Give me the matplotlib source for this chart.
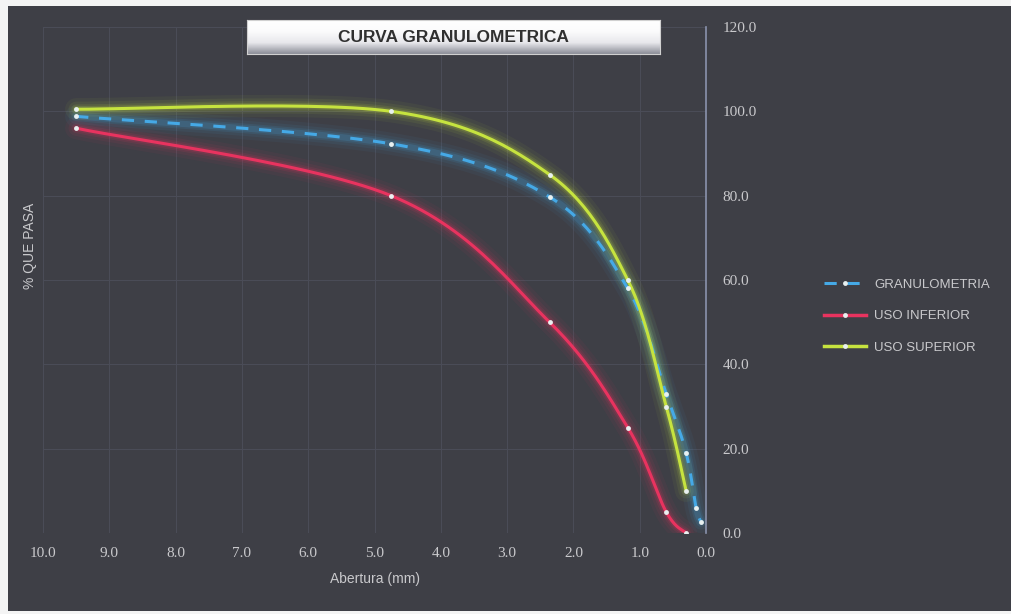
import numpy as np
import matplotlib.pyplot as plt
from matplotlib.patches import Rectangle
from matplotlib.lines import Line2D
from matplotlib.colors import LinearSegmentedColormap

# Datos
tamiz_gran = [9.5, 4.75, 2.36, 1.18, 0.6, 0.3, 0.15, 0.075]
pasa_gran = [98.8, 92.3, 79.7, 58.0, 33.0, 19.0, 6.0, 2.6]

tamiz_lim = [9.5, 4.75, 2.36, 1.18, 0.6, 0.3]
uso_inferior = [96.0, 80.0, 50.0, 25.0, 5.0, 0.0]
uso_superior = [100.5, 100.0, 85.0, 60.0, 30.0, 10.0]

x_ticks = [10, 9, 8, 7, 6, 5, 4, 3, 2, 1, 0]
y_ticks = [0, 20, 40, 60, 80, 100, 120]

fondo = '#3e3f46'
texto = '#c9c9cc'
azul = '#45a9e6'
rojo = '#e8335f'
verde = '#c6e33f'


def suavizar(x, y, n=30):
    """Curva suavizada tipo Excel (Catmull-Rom / Bezier)."""
    x = np.asarray(x, float)
    y = np.asarray(y, float)
    p = np.column_stack([x, y])
    p = np.vstack([p[0], p, p[-1]])
    t = np.linspace(0, 1, n)[:, None]
    seg = []
    for i in range(1, len(p) - 2):
        p0, p1, p2, p3 = p[i - 1], p[i], p[i + 1], p[i + 2]
        c1 = p1 + (p2 - p0) / 6
        c2 = p2 - (p3 - p1) / 6
        b = ((1 - t) ** 3) * p1 + 3 * ((1 - t) ** 2) * t * c1 + 3 * (1 - t) * t ** 2 * c2 + t ** 3 * p2
        seg.append(b)
    s = np.vstack(seg)
    return s[:, 0], s[:, 1]


fig = plt.figure(figsize=(10.11, 6.14), dpi=100)
fig.patch.set_facecolor('#f4f4f4')
fig.patches.append(Rectangle((8 / 1011, 3 / 614), 1 - 8 / 1011, 1 - 9 / 614,
                             transform=fig.transFigure, facecolor=fondo,
                             edgecolor='none', zorder=-5))

ax = fig.add_axes([43 / 1011, 1 - 533 / 614, (706 - 43) / 1011, (533 - 27) / 614], zorder=2)
ax.set_facecolor('none')
ax.set_xlim(10, 0)
ax.set_ylim(0, 120)
ax.set_xticks(x_ticks)
ax.set_yticks(y_ticks)
ax.set_xticklabels([f'{v:.1f}' for v in x_ticks])
ax.set_yticklabels([f'{v:.1f}' for v in y_ticks])
ax.yaxis.tick_right()
ax.tick_params(length=0, colors=texto, labelsize=11)
ax.tick_params(axis='x', pad=10)
ax.tick_params(axis='y', pad=12)
for lab in ax.get_xticklabels() + ax.get_yticklabels():
    lab.set_family('Liberation Serif')
ax.grid(True, color='#4b4d58', linewidth=0.7)
for s in ['top', 'left', 'bottom']:
    ax.spines[s].set_visible(False)
ax.spines['right'].set_color('#8a93ad')
ax.spines['right'].set_linewidth(1.2)

series = [
    (tamiz_gran, pasa_gran, azul, (0, (4, 3.5))),
    (tamiz_lim, uso_inferior, rojo, '-'),
    (tamiz_lim, uso_superior, verde, '-'),
]
for xs, ys, col, ls in series:
    sx, sy = suavizar(xs, ys)
    # resplandor
    for lw, a in [(16, 0.05), (11, 0.07), (7, 0.11), (4.5, 0.16)]:
        ax.plot(sx, sy, color=col, lw=lw, alpha=a, solid_capstyle='round', zorder=2)
    ax.plot(sx, sy, color=col, lw=2.2, ls=ls, zorder=3)
    ax.plot(xs, ys, 'o', color='#e8f0f0', ms=3.5, mec='none', zorder=4)

# titulo
grad = np.linspace(1, 0, 50).reshape(-1, 1)
gax = fig.add_axes([247 / 1011, 1 - 54 / 614, 413 / 1011, 34 / 614], zorder=6)
gax.imshow(grad, aspect='auto', cmap=LinearSegmentedColormap.from_list(
    'g', ['#8d8f99', '#e8e8ec', '#fbfbfc', '#ffffff']), extent=[0, 1, 0, 1])
gax.set_xticks([])
gax.set_yticks([])
for s in gax.spines.values():
    s.set_color('#d0d0d0')
gax.text(0.5, 0.5, 'CURVA GRANULOMETRICA', ha='center', va='center',
         fontsize=12.5, fontweight='bold', color='#303030', family='Liberation Sans')

ax.set_xlabel('Abertura (mm)', color=texto, fontsize=10, labelpad=9,
              family='Liberation Sans')
fig.text(30 / 1011, 1 - 246 / 614, '% QUE PASA', rotation=90, ha='center', va='center',
         color=texto, fontsize=10, family='Liberation Sans')

handles = [
    Line2D([], [], color=azul, lw=2.2, ls=(0, (4, 3.5)), marker='o', ms=3.5,
           mfc='#e8f0f0', mec='none', markevery=[1]),
    Line2D([], [], color=rojo, lw=2.5, marker='o', ms=3.5, mfc='#e8f0f0', mec='none'),
    Line2D([], [], color=verde, lw=2.5, marker='o', ms=3.5, mfc='#e8f0f0', mec='none'),
]
leg = fig.legend(handles, ['GRANULOMETRIA', 'USO INFERIOR', 'USO SUPERIOR'],
                 loc='upper left', bbox_to_anchor=(812 / 1011, 1 - 267 / 614),
                 frameon=False, handlelength=3.2, handletextpad=0.6,
                 labelspacing=1.45, prop={'family': 'Liberation Sans', 'size': 9.5})
for t in leg.get_texts():
    t.set_color(texto)

fig.savefig('out.png', dpi=100, facecolor=fig.get_facecolor())
